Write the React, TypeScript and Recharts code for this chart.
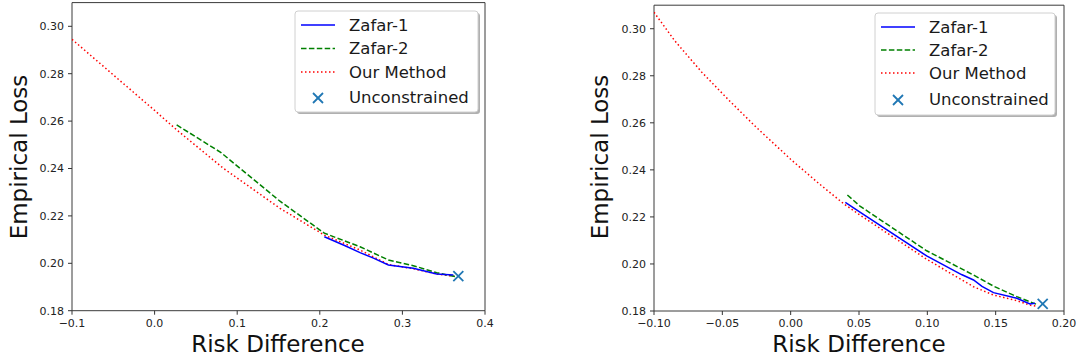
import React from "react";
import { ComposedChart, Line, Scatter, XAxis, YAxis, ReferenceArea } from "recharts";

// left panel (x: -0.1 .. 0.4)
const leftZafar1 = [
  [0.2055, 0.2112], [0.23, 0.2075], [0.2487, 0.2045], [0.265, 0.2022],
  [0.283, 0.1993], [0.3132, 0.1979], [0.3415, 0.1955], [0.3617, 0.1951],
];
const leftZafar2 = [
  [0.0267, 0.2584], [0.08, 0.2468], [0.1034, 0.2401], [0.1518, 0.2262],
  [0.2055, 0.2127], [0.2487, 0.207], [0.283, 0.2014], [0.3132, 0.199],
  [0.3415, 0.196], [0.365, 0.1943],
];
const leftOurs = [
  [-0.1, 0.2945], [-0.05, 0.2795], [0.0, 0.2645], [0.0267, 0.2563],
  [0.0832, 0.2401], [0.1518, 0.2232], [0.2055, 0.2119], [0.2487, 0.2056],
  [0.283, 0.1995], [0.3132, 0.1977], [0.3415, 0.1955], [0.365, 0.1944],
];
const leftUnconstrained = [[0.3677, 0.1946]];

// right panel (x: -0.10 .. 0.20)
const rightZafar1 = [
  [0.04, 0.2262], [0.0507, 0.222], [0.0995, 0.2034], [0.125, 0.1955],
  [0.1338, 0.1932], [0.14, 0.1905], [0.1484, 0.1878], [0.1655, 0.1854],
  [0.1751, 0.183], [0.1788, 0.1833],
];
const rightZafar2 = [
  [0.0415, 0.2293], [0.0507, 0.2246], [0.0995, 0.2056], [0.1338, 0.1953],
  [0.1484, 0.1906], [0.1655, 0.1861], [0.18, 0.1828],
];
const rightOurs = [
  [-0.1, 0.307], [-0.085, 0.295], [-0.065, 0.2815], [-0.045, 0.2695],
  [-0.025, 0.258], [0.0, 0.2445], [0.02, 0.2345], [0.039, 0.2255],
  [0.0507, 0.2208], [0.0995, 0.202], [0.1338, 0.1903], [0.1484, 0.1868],
  [0.1655, 0.1844], [0.175, 0.1825], [0.18, 0.182],
];
const rightUnconstrained = [[0.1844, 0.183]];

const leftXTicks = [-0.1, 0, 0.1, 0.2, 0.3, 0.4];
const rightXTicks = [-0.1, -0.05, 0, 0.05, 0.1, 0.15, 0.2];
const yTicks = [0.18, 0.2, 0.22, 0.24, 0.26, 0.28, 0.3];

const legendLabels = ["Zafar-1", "Zafar-2", "Our Method", "Unconstrained"];

const FONT = "DejaVu Sans, sans-serif";
const toPts = (arr: number[][]) => arr.map(([x, y]) => ({ x, y }));
const fmt = (digits: number) => (v: number) =>
  (v < -1e-9 ? "\u2212" : "") + Math.abs(v).toFixed(digits);

const XMark = (props: any) => {
  const { cx, cy } = props;
  const r = 5;
  return (
    <g stroke="#1f77b4" strokeWidth={1.8}>
      <line x1={cx - r} y1={cy - r} x2={cx + r} y2={cy + r} />
      <line x1={cx - r} y1={cy + r} x2={cx + r} y2={cy - r} />
    </g>
  );
};

const tickStyle = { fontSize: 11, fill: "#222", fontFamily: FONT };

function Panel(props: {
  zafar1: number[][];
  zafar2: number[][];
  ours: number[][];
  unc: number[][];
  xTicks: number[];
  xDigits: number;
  yAxisWidth: number;
  margin: { top: number; right: number; bottom: number; left: number };
  xAxisHeight: number;
}) {
  const { xTicks } = props;
  const xMin = xTicks[0];
  const xMax = xTicks[xTicks.length - 1];
  return (
    <ComposedChart width={540} height={362} margin={props.margin}>
      <XAxis
        type="number"
        dataKey="x"
        domain={[xMin, xMax]}
        ticks={xTicks}
        tickFormatter={fmt(props.xDigits)}
        axisLine={false}
        tickLine={{ stroke: "#333" }}
        tickSize={4}
        tickMargin={4}
        height={props.xAxisHeight}
        tick={tickStyle}
        allowDataOverflow
      />
      <YAxis
        type="number"
        dataKey="y"
        domain={[0.18, 0.31]}
        ticks={yTicks}
        tickFormatter={fmt(2)}
        axisLine={false}
        tickLine={{ stroke: "#333" }}
        tickSize={4}
        tickMargin={4}
        width={props.yAxisWidth}
        tick={tickStyle}
        allowDataOverflow
      />
      <ReferenceArea
        x1={xMin}
        x2={xMax}
        y1={0.18}
        y2={0.31}
        fill="none"
        fillOpacity={0}
        stroke="#3a3a3a"
        strokeWidth={1}
      />
      <Line
        data={toPts(props.ours)}
        dataKey="y"
        type="linear"
        stroke="#ff0000"
        strokeWidth={1.5}
        strokeDasharray="1.5 2.5"
        dot={false}
        isAnimationActive={false}
      />
      <Line
        data={toPts(props.zafar2)}
        dataKey="y"
        type="linear"
        stroke="#008000"
        strokeWidth={1.5}
        strokeDasharray="5.5 2.4"
        dot={false}
        isAnimationActive={false}
      />
      <Line
        data={toPts(props.zafar1)}
        dataKey="y"
        type="linear"
        stroke="#0000ff"
        strokeWidth={1.5}
        dot={false}
        isAnimationActive={false}
      />
      <Scatter data={toPts(props.unc)} shape={XMark} isAnimationActive={false} />
    </ComposedChart>
  );
}

function LegendBox(props: { x: number; y: number; w: number; h: number; rows: number[] }) {
  const { x, y, w, h, rows } = props;
  const sx = x + 6;
  const ex = x + 40;
  const tx = x + 54;
  return (
    <g fontFamily={FONT} fontSize={16.5} fill="#1a1a1a">
      <rect x={x + 2} y={y + 2} width={w} height={h} rx={3} fill="#b0b0b0" />
      <rect x={x} y={y} width={w} height={h} rx={3} fill="#fff" stroke="#d0d0d0" />
      <line x1={sx} x2={ex} y1={y + rows[0]} y2={y + rows[0]} stroke="#0000ff" strokeWidth={1.5} />
      <line x1={sx} x2={ex} y1={y + rows[1]} y2={y + rows[1]} stroke="#008000" strokeWidth={1.5} strokeDasharray="5.5 2.4" />
      <line x1={sx} x2={ex} y1={y + rows[2]} y2={y + rows[2]} stroke="#ff0000" strokeWidth={1.5} strokeDasharray="1.5 2.5" />
      <XMark cx={(sx + ex) / 2} cy={y + rows[3] + 1} />
      {legendLabels.map((t, i) => (
        <text key={t} x={tx} y={y + rows[i]} dominantBaseline="central">
          {t}
        </text>
      ))}
    </g>
  );
}

export default function App() {
  return (
    <div style={{ position: "absolute", left: 0, top: 0, width: 1080, height: 362, background: "#fff" }}>
      <div style={{ position: "absolute", left: 0, top: 0 }}>
        <Panel
          zafar1={leftZafar1}
          zafar2={leftZafar2}
          ours={leftOurs}
          unc={leftUnconstrained}
          xTicks={leftXTicks}
          xDigits={1}
          yAxisWidth={72}
          margin={{ top: 2.6, right: 55, bottom: 0, left: 0 }}
          xAxisHeight={51.3}
        />
      </div>
      <div style={{ position: "absolute", left: 540, top: 0 }}>
        <Panel
          zafar1={rightZafar1}
          zafar2={rightZafar2}
          ours={rightOurs}
          unc={rightUnconstrained}
          xTicks={rightXTicks}
          xDigits={2}
          yAxisWidth={114}
          margin={{ top: 5.2, right: 16, bottom: 0, left: 0 }}
          xAxisHeight={51}
        />
      </div>
      <svg width={1080} height={362} style={{ position: "absolute", left: 0, top: 0, pointerEvents: "none" }}>
        <LegendBox x={295} y={11} w={183} h={101} rows={[14, 37.5, 61, 86]} />
        <LegendBox x={875} y={13} w={180} h={102} rows={[14, 37, 60, 86]} />
        <g fontFamily={FONT} fontSize={23} fill="#111" textAnchor="middle">
          <text x={278} y={352}>Risk Difference</text>
          <text x={859} y={352}>Risk Difference</text>
          <text transform="translate(27,157) rotate(-90)">Empirical Loss</text>
          <text transform="translate(608,157) rotate(-90)">Empirical Loss</text>
        </g>
      </svg>
    </div>
  );
}
